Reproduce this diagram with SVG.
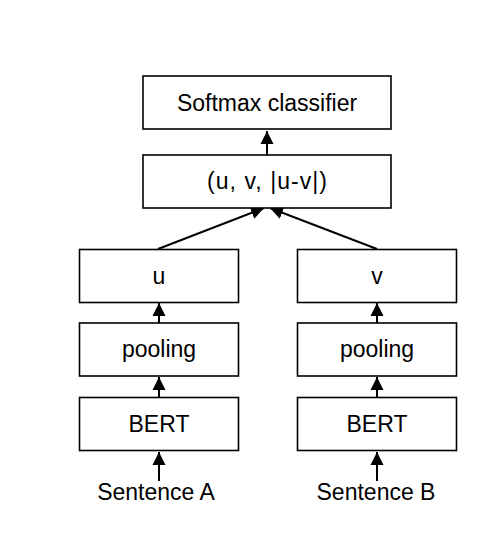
<svg xmlns="http://www.w3.org/2000/svg" width="500" height="544" viewBox="0 0 500 544">
<style>
.box{fill:#fff;stroke:#000;stroke-width:1.6}
.lbl{font-family:"Liberation Sans",Arial,sans-serif;font-size:23px;fill:#000;text-anchor:middle}
.edge{stroke:#000;stroke-width:2;fill:none;marker-end:url(#ah)}
</style>
<defs>
<marker id="ah" markerUnits="userSpaceOnUse" markerWidth="14" markerHeight="14" viewBox="0 0 14 14" refX="13" refY="7" orient="auto">
<path d="M0,0.5 L13,7 L0,13.5 Z" fill="#000"/>
</marker>
</defs>
<rect width="500" height="544" fill="#fff"/>
<g id="connectors">
<line class="edge" x1="267" y1="155" x2="267" y2="131"/>
<line class="edge" x1="158" y1="249" x2="264" y2="208"/>
<line class="edge" x1="377" y1="249" x2="270" y2="208"/>
<line class="edge" x1="159" y1="323" x2="159" y2="303"/>
<line class="edge" x1="159" y1="397" x2="159" y2="377"/>
<line class="edge" x1="159" y1="481" x2="159" y2="452"/>
<line class="edge" x1="377" y1="323" x2="377" y2="303"/>
<line class="edge" x1="377" y1="397" x2="377" y2="377"/>
<line class="edge" x1="377" y1="481" x2="377" y2="452"/>
</g>
<g id="softmax">
<rect class="box" x="143" y="76" width="248" height="53"/>
<text class="lbl" x="267" y="110.5">Softmax classifier</text>
</g>
<g id="concat">
<rect class="box" x="143" y="155" width="248" height="53"/>
<text class="lbl" x="267" y="189" textLength="120" lengthAdjust="spacing">(u, v, |u-v|)</text>
</g>
<g id="u">
<rect class="box" x="79.5" y="249.5" width="159" height="53"/>
<text class="lbl" x="159" y="283.5">u</text>
</g>
<g id="poolingA">
<rect class="box" x="79.5" y="323" width="159" height="53"/>
<text class="lbl" x="159" y="357">pooling</text>
</g>
<g id="bertA">
<rect class="box" x="79.5" y="397.5" width="159" height="53"/>
<text class="lbl" x="159" y="431.5">BERT</text>
</g>
<g id="sentenceA">
<text class="lbl" x="156" y="500">Sentence A</text>
</g>
<g id="v">
<rect class="box" x="297.5" y="249.5" width="159" height="53"/>
<text class="lbl" x="377" y="283.5">v</text>
</g>
<g id="poolingB">
<rect class="box" x="297.5" y="323" width="159" height="53"/>
<text class="lbl" x="377" y="357">pooling</text>
</g>
<g id="bertB">
<rect class="box" x="297.5" y="397.5" width="159" height="53"/>
<text class="lbl" x="377" y="431.5">BERT</text>
</g>
<g id="sentenceB">
<text class="lbl" x="376" y="500">Sentence B</text>
</g>
</svg>
